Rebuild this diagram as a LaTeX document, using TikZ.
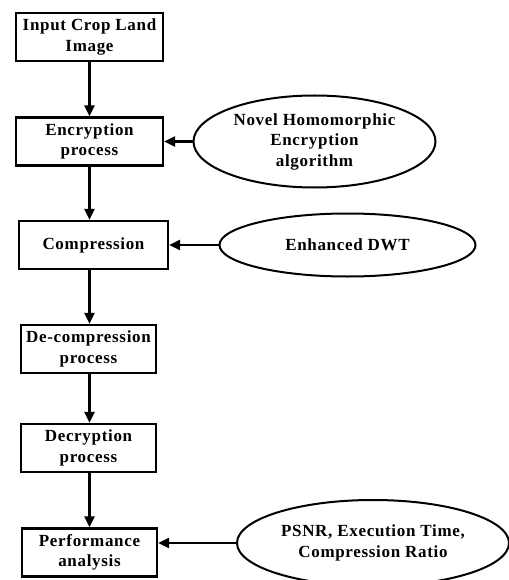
\documentclass[tikz,border=0pt]{standalone}
\usepackage{fontspec}
\setmainfont{Liberation Serif}[LetterSpace=4]
\usetikzlibrary{shapes.geometric,arrows.meta}
\begin{document}
\begin{tikzpicture}[x=1pt,y=-1pt,
  txt/.style={font=\fontsize{17}{20.5}\selectfont\bfseries, align=center, inner sep=0pt},
  box/.style={txt, draw, line width=2.3pt, rectangle},
  oval/.style={txt, draw, line width=2pt, ellipse},
  arr/.style={-{Triangle[length=11pt,width=10pt]}, line width=2.3pt}]
\useasboundingbox (0,0) rectangle (508,580);
\coordinate (ax) at (89.5,0);
\node[box, minimum width=147pt, minimum height=48pt] (b1) at (89.5,37) {Input Crop Land\\Image};
\node[box, minimum width=147pt, minimum height=48pt] (b2) at (89.5,141.5) {Encryption\\process};
\node[box, minimum width=149pt, minimum height=48pt] (b3) at (93.5,245) {Compression};
\node[box, minimum width=135pt, minimum height=48pt] (b4) at (88.5,349) {De-compression\\process};
\node[box, minimum width=135pt, minimum height=48pt] (b5) at (88.5,448) {Decryption\\process};
\node[box, minimum width=135pt, minimum height=48pt] (b6) at (89.5,552.5) {Performance\\analysis};
\node[oval, minimum width=242pt, minimum height=92pt] (e1) at (314.5,141.5) {Novel Homomorphic\\Encryption\\algorithm};
\node[oval, minimum width=256pt, minimum height=63pt] (e2) at (347.5,245) {Enhanced DWT};
\node[oval, minimum width=272pt, minimum height=86pt] (e3) at (373,543) {PSNR, Execution Time,\\Compression Ratio};
\draw[arr] (b1.south -| ax) -- (b2.north -| ax);
\draw[arr] (b2.south -| ax) -- (b3.north -| ax);
\draw[arr] (b3.south -| ax) -- (b4.north -| ax);
\draw[arr] (b4.south -| ax) -- (b5.north -| ax);
\draw[arr] (b5.south -| ax) -- (b6.north -| ax);
\draw[arr] (e1.west) -- (e1.west -| b2.east);
\draw[arr] (e2.west) -- (e2.west -| b3.east);
\draw[arr] (e3.west) -- (e3.west -| b6.east);
\end{tikzpicture}
\end{document}
